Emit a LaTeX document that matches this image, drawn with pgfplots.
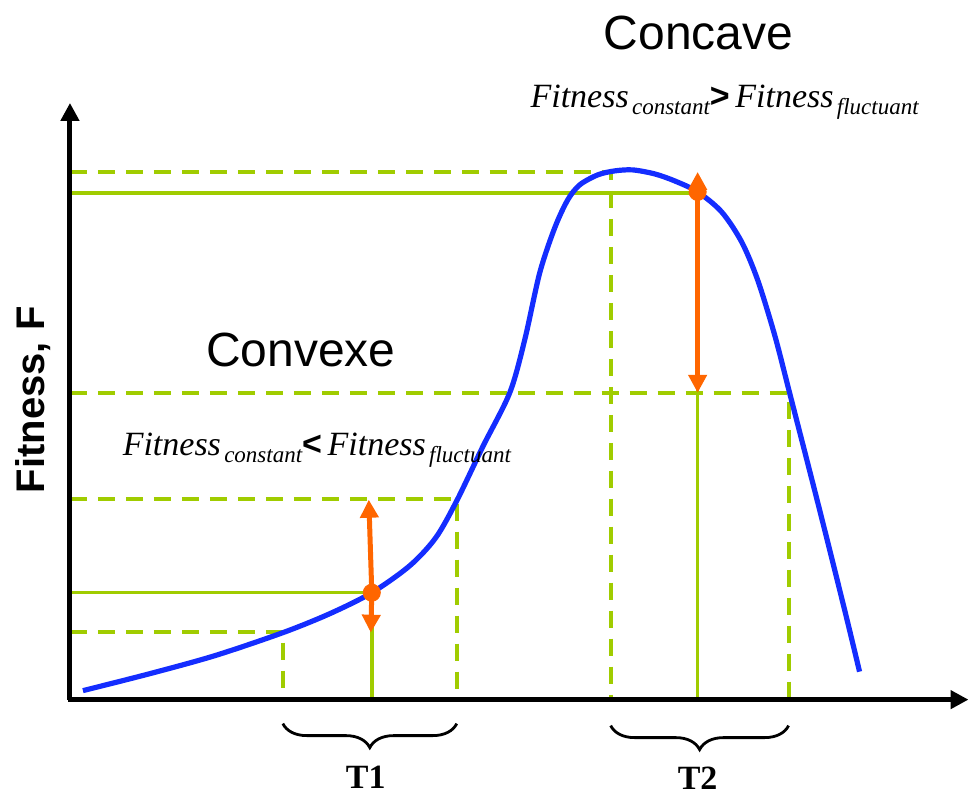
\documentclass[border=0pt]{standalone}
\usepackage{pgfplots}
\pgfplotsset{compat=1.18}
\usetikzlibrary{arrows.meta,decorations.pathreplacing}
\usepackage{fontspec}
\setmainfont{Liberation Sans}
\newfontfamily\tnr{Liberation Serif}

\definecolor{curveblue}{RGB}{20,45,255}
\definecolor{lime}{RGB}{160,204,0}
\definecolor{arrorange}{RGB}{255,102,0}

% fitness curve (x right, y down)
\pgfplotstableread{
x y
83 691
150 674
215 656
283 633
330 614
372 593
410 566
436 538
457 501
483 447
510 393
525 340
540 273
555 228
568 200
580 185
598 175
615 171
633 170
655 174
675 181
698 192
722 212
742 242
758 280
775 335
790 393
820 510
845 610
860 672
}\curve

\newcommand{\fit}[2]{{\tnr\itshape\fontsize{17}{17}\selectfont Fitness}\,%
  \raisebox{-0.6ex}{\tnr\itshape\fontsize{11.5}{11.5}\selectfont #1}%
  {\fontsize{17}{17}\selectfont\bfseries #2}}

\begin{document}
\begin{tikzpicture}
\begin{axis}[
    hide axis, scale only axis, clip=false,
    width=485.5pt, height=396pt,
    xmin=0, xmax=971, ymin=0, ymax=792,
    y dir=reverse,
]
\path (axis cs:0,0) rectangle (axis cs:971,792);

% dashed guides
\addplot[lime, line width=2pt, dash pattern=on 8.5pt off 5.5pt] coordinates {(70,632) (283,632) (283,700)};
\addplot[lime, line width=2pt, dash pattern=on 8.5pt off 5.5pt] coordinates {(70,499) (457,499) (457,700)};
\addplot[lime, line width=2pt, dash pattern=on 8.5pt off 5.5pt] coordinates {(70,172) (611,172) (611,700)};
\addplot[lime, line width=2pt, dash pattern=on 8.5pt off 5.5pt] coordinates {(70,393) (789,393) (789,700)};
% solid guides
\addplot[lime, line width=1.75pt] coordinates {(70,593) (372,593) (372,700)};
\addplot[lime, line width=1.75pt] coordinates {(70,193) (698,193) (698,700)};

% curve
\addplot[curveblue, line width=2.6pt, smooth, tension=0.5] table {\curve};

% orange arrows and points
\addplot[arrorange, line width=2.5pt, -{Triangle[width=9pt,length=9pt]}] coordinates {(372,593) (369,500)};
\addplot[arrorange, line width=2.5pt, -{Triangle[width=9pt,length=9pt]}] coordinates {(372,593) (371,633)};
\addplot[arrorange, line width=2.5pt, -{Triangle[width=9pt,length=9pt]}] coordinates {(698,192) (698,172)};
\addplot[arrorange, line width=2.5pt, -{Triangle[width=9pt,length=9pt]}] coordinates {(698,192) (698,393)};
\addplot[only marks, mark=*, mark size=4.3pt, arrorange] coordinates {(372,593) (698,192)};

% axes
\addplot[black, line width=2.5pt, -{Triangle[width=9pt,length=9pt]}] coordinates {(70,700) (70,103)};
\addplot[black, line width=2.5pt, -{Triangle[width=9pt,length=9pt]}] coordinates {(68,700) (969,700)};

% braces
\draw[line width=1.4pt, decorate, decoration={brace, mirror, amplitude=12pt}] (axis cs:283,724) -- (axis cs:457,724);
\draw[line width=1.4pt, decorate, decoration={brace, mirror, amplitude=12pt}] (axis cs:611,726) -- (axis cs:789,726);

% text
\node[anchor=base, font=\tnr\bfseries\fontsize{17}{17}\selectfont] at (axis cs:366,789) {T1};
\node[anchor=base, font=\tnr\bfseries\fontsize{17}{17}\selectfont] at (axis cs:698,790) {T2};
\node[anchor=base, font=\fontsize{24}{24}\selectfont] at (axis cs:699,50) {Concave};
\node[anchor=base, font=\fontsize{24}{24}\selectfont] at (axis cs:301,367) {Convexe};
\node[anchor=base] at (axis cs:725,108) {\fit{constant}{>\,}\fit{fluctuant}{}};
\node[anchor=base] at (axis cs:317,456) {\fit{constant}{<\,}\fit{fluctuant}{}};
\node[anchor=base, rotate=90, font=\bfseries\fontsize{20}{20}\selectfont] at (axis cs:45,400) {Fitness, F};
\end{axis}
\end{tikzpicture}
\end{document}
